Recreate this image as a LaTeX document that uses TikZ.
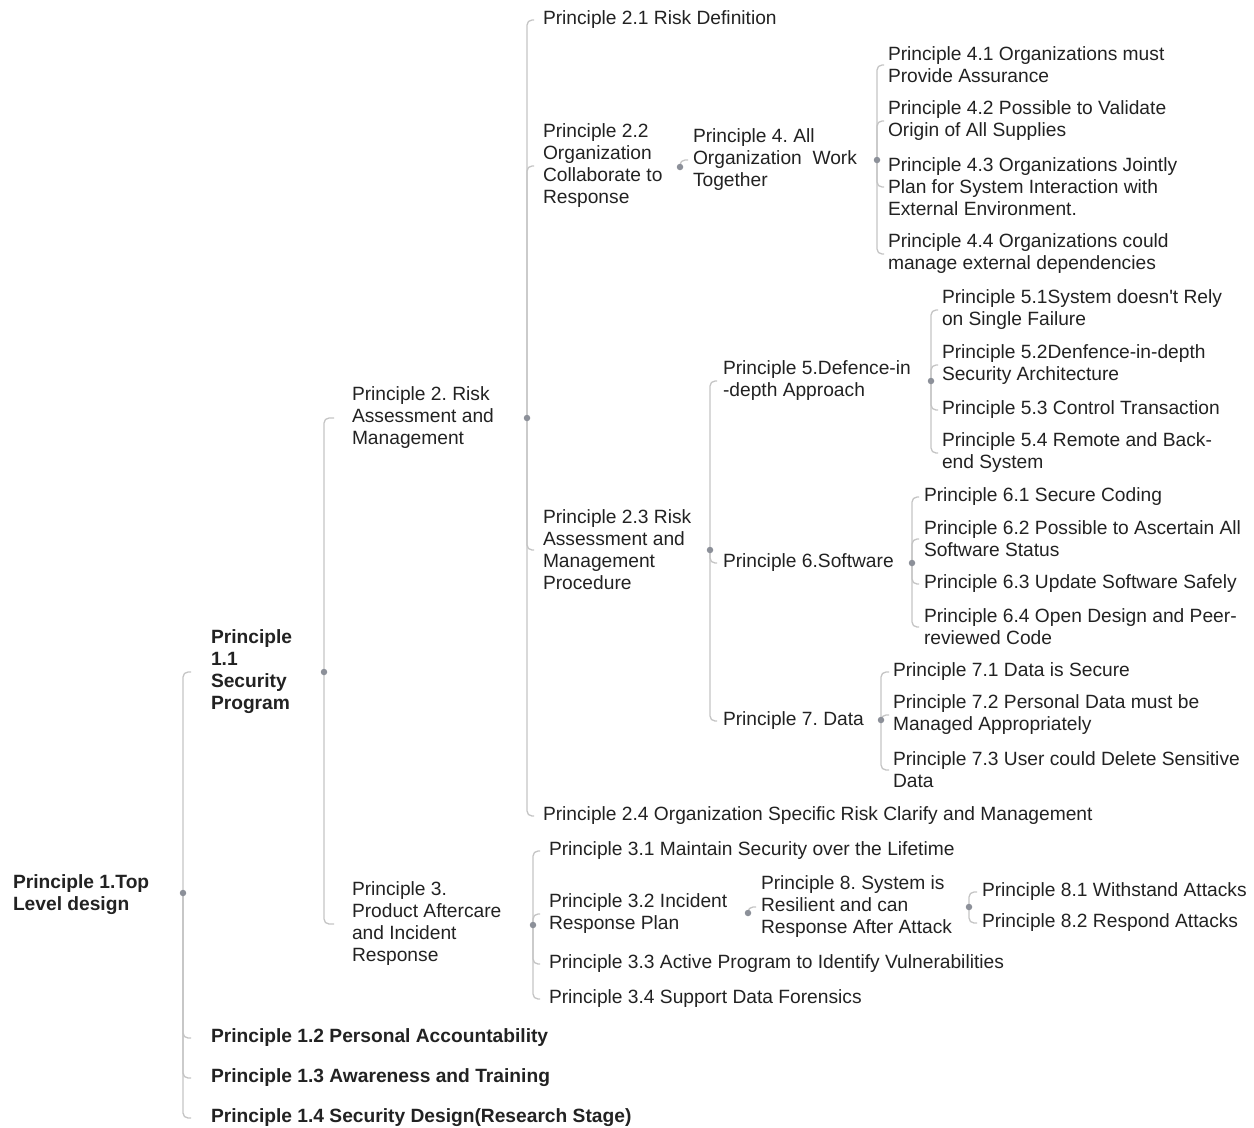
\documentclass[tikz,border=0pt]{standalone}
\usepackage{fontspec}
\setmainfont{Liberation Sans}[Ligatures=TeXOff]
\frenchspacing
\definecolor{txt}{HTML}{222222}
\definecolor{ln}{HTML}{C4C4C4}
\definecolor{dotc}{HTML}{8C9099}
\begin{document}
\begin{tikzpicture}[x=1pt,y=-1pt,
  t/.style={anchor=west, inner sep=0pt, outer sep=0pt, align=left, text=txt, yshift=-2pt, font=\fontsize{19.2}{22}\selectfont},
  tb/.style={t, font=\fontsize{19.2}{22}\selectfont\bfseries},
  dt/.style={circle, fill=dotc, minimum size=6.5pt, inner sep=0pt},
  conn/.style={draw=ln, line width=1.3pt, rounded corners=5pt},
]
\useasboundingbox (0,0) rectangle (1254,1128);

% ---------- nodes ----------
\node[tb] (top) at (13,893) {Principle 1.Top\\Level design};
\node[tb] (p11) at (211,670) {Principle\\1.1\\Security\\Program};
\node[tb] (p12) at (211,1036) {Principle 1.2 Personal Accountability};
\node[tb] (p13) at (211,1076) {Principle 1.3 Awareness and Training};
\node[tb] (p14) at (211,1116) {Principle 1.4 Security Design(Research Stage)};

\node[t] (p2) at (352,416) {Principle 2. Risk\\Assessment and\\Management};
\node[t] (p3) at (352,922) {Principle 3.\\Product Aftercare\\and Incident\\Response};

\node[t] (p21) at (543,18) {Principle 2.1 Risk Definition};
\node[t] (p22) at (543,164) {Principle 2.2\\Organization\\Collaborate to\\Response};
\node[t] (p23) at (543,548) {Principle 2.3 Risk\\Assessment and\\Management\\Procedure};
\node[t] (p24) at (543,814) {Principle 2.4 Organization Specific Risk Clarify and Management};

\node[t] (p4) at (693,158) {Principle 4. All\\Organization\ \ Work\\Together};
\node[t] (p41) at (888,63) {Principle 4.1 Organizations must\\Provide Assurance};
\node[t] (p42) at (888,119) {Principle 4.2 Possible to Validate\\Origin of All Supplies};
\node[t] (p43) at (888,185) {Principle 4.3 Organizations Jointly\\Plan for System Interaction with\\External Environment.};
\node[t] (p44) at (888,252) {Principle 4.4 Organizations could\\manage external dependencies};

\node[t] (p5) at (723,379) {Principle 5.Defence-in\\-depth Approach};
\node[t] (p51) at (942,308) {Principle 5.1System doesn't Rely\\on Single Failure};
\node[t] (p52) at (942,363) {Principle 5.2Denfence-in-depth\\Security Architecture};
\node[t] (p53) at (942,408) {Principle 5.3 Control Transaction};
\node[t] (p54) at (942,451) {Principle 5.4 Remote and Back-\\end System};

\node[t] (p6) at (723,561) {Principle 6.Software};
\node[t] (p61) at (924,495) {Principle 6.1 Secure Coding};
\node[t] (p62) at (924,537) {Principle 6.2 Possible to Ascertain All\\Software Status};
\node[t] (p63) at (924,582) {Principle 6.3 Update Software Safely};
\node[t] (p64) at (924,625) {Principle 6.4 Open Design and Peer-\\reviewed Code};

\node[t] (p7) at (723,719) {Principle 7. Data};
\node[t] (p71) at (893,670) {Principle 7.1 Data is Secure};
\node[t] (p72) at (893,713) {Principle 7.2 Personal Data must be\\Managed Appropriately};
\node[t] (p73) at (893,768) {Principle 7.3 User could Delete Sensitive\\Data};

\node[t] (p31) at (549,849) {Principle 3.1 Maintain Security over the Lifetime};
\node[t] (p32) at (549,912) {Principle 3.2 Incident\\Response Plan};
\node[t] (p33) at (549,962) {Principle 3.3 Active Program to Identify Vulnerabilities};
\node[t] (p34) at (549,997) {Principle 3.4 Support Data Forensics};

\node[t] (p8) at (761,905) {Principle 8. System is\\Resilient and can\\Response After Attack};
\node[t] (p81) at (982,890) {Principle 8.1 Withstand Attacks};
\node[t] (p82) at (982,921) {Principle 8.2 Respond Attacks};

% ---------- dot coordinates ----------
\coordinate (dtop) at (183,893);
\coordinate (d11) at (324,672);
\coordinate (d2) at (527,418);
\coordinate (d3) at (533,925);
\coordinate (d22) at (680,167);
\coordinate (d4) at (877,160);
\coordinate (d23) at (710,550);
\coordinate (d5) at (931,381);
\coordinate (d6) at (912,563);
\coordinate (d7) at (881,720);
\coordinate (d32) at (748,913);
\coordinate (d8) at (969,907);

% ---------- connectors ----------
\foreach \c in {p11,p12,p13,p14}
  \draw[conn, shorten >=20pt] (dtop) |- (\c.west);
\foreach \c in {p2,p3}
  \draw[conn, shorten >=18pt] (d11) |- (\c.west);
\foreach \c in {p21,p22,p23,p24}
  \draw[conn, shorten >=9pt] (d2) |- (\c.west);
\foreach \c in {p31,p32,p33,p34}
  \draw[conn, shorten >=9pt] (d3) |- (\c.west);
\draw[conn, shorten >=5pt] (d22) |- (p4.west);
\foreach \c in {p41,p42,p43,p44}
  \draw[conn, shorten >=4pt] (d4) |- (\c.west);
\foreach \c in {p5,p6,p7}
  \draw[conn, shorten >=6pt] (d23) |- (\c.west);
\foreach \c in {p51,p52,p53,p54}
  \draw[conn, shorten >=4pt] (d5) |- (\c.west);
\foreach \c in {p61,p62,p63,p64}
  \draw[conn, shorten >=5pt] (d6) |- (\c.west);
\foreach \c in {p71,p72,p73}
  \draw[conn, shorten >=4pt] (d7) |- (\c.west);
\draw[conn, shorten >=5pt] (d32) |- (p8.west);
\foreach \c in {p81,p82}
  \draw[conn, shorten >=5pt] (d8) |- (\c.west);

% ---------- dots ----------
\foreach \d in {dtop,d11,d2,d3,d22,d4,d23,d5,d6,d7,d32,d8}
  \node[dt] at (\d) {};
\end{tikzpicture}
\end{document}
